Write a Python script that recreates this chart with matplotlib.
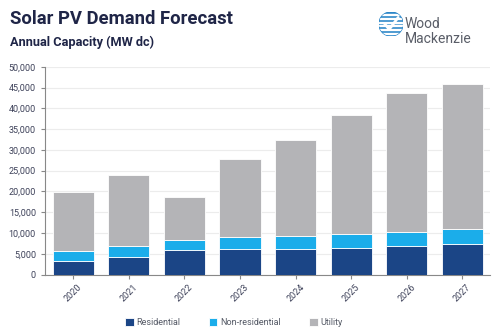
import numpy as np
import matplotlib
matplotlib.use("Agg")
import matplotlib.pyplot as plt
from matplotlib.patches import Circle, Rectangle
from matplotlib.ticker import FuncFormatter

years = ["2020", "2021", "2022", "2023", "2024", "2025", "2026", "2027"]
residential = [3300, 4300, 5800, 6200, 6200, 6500, 6900, 7400]
non_residential = [2400, 2600, 2600, 2800, 3100, 3200, 3300, 3600]
utility = [14200, 17100, 10200, 18800, 23100, 28800, 33400, 34900]
series_names = ["Residential", "Non-residential", "Utility"]

plt.rcParams['font.family'] = ['Roboto', 'DejaVu Sans']

c_res = "#1b4586"
c_non = "#1badea"
c_uti = "#b4b4b7"
navy = "#1f2547"
tick_c = "#3d4159"

fig = plt.figure(figsize=(5, 3.32), dpi=100)
ax = fig.add_axes([0.09, 0.173, 0.89, 0.626])

x = np.arange(len(years))
res = np.array(residential)
non = np.array(non_residential)
uti = np.array(utility)
w = 0.74
ax.bar(x, res, w, color=c_res, edgecolor="white", linewidth=0.6, zorder=3, label=series_names[0])
ax.bar(x, non, w, bottom=res, color=c_non, edgecolor="white", linewidth=0.6, zorder=3, label=series_names[1])
ax.bar(x, uti, w, bottom=res + non, color=c_uti, edgecolor="white", linewidth=0.6, zorder=3, label=series_names[2])

ax.set_xlim(-0.51, 7.5)
ax.set_ylim(0, 50000)
ax.set_yticks(np.arange(0, 50001, 5000))
ax.yaxis.set_major_formatter(FuncFormatter(lambda v, p: f"{int(v):,}"))
ax.set_xticks(x)
ax.set_xticklabels(years, rotation=45, ha="center", va="top")
ax.tick_params(axis="both", labelsize=6.5, colors="#888888", labelcolor=tick_c, length=3, width=0.8)
ax.tick_params(axis="x", pad=3)
ax.grid(axis="y", color="#ececec", linewidth=0.8, zorder=0)
for s in ["top", "right"]:
    ax.spines[s].set_visible(False)
for s in ["left", "bottom"]:
    ax.spines[s].set_color("#888888")
    ax.spines[s].set_linewidth(0.8)

fig.text(0.02, 0.928, "Solar PV Demand Forecast", fontsize=13.3, fontweight="bold", color=navy)
fig.text(0.02, 0.862, "Annual Capacity (MW dc)", fontsize=9.2, fontweight="bold", color=navy)

# legend
leg = fig.legend(loc="lower center", bbox_to_anchor=(0.468, -0.01), ncol=3, frameon=False,
                 fontsize=6.5, handlelength=0.9, handleheight=0.9, handletextpad=0.3,
                 columnspacing=3.2)
for t in leg.get_texts():
    t.set_color("#555a66")

# logo
lax = fig.add_axes([0.758, 1 - 36 / 332, 0.048, 0.0723])
lax.set_xlim(-1, 1)
lax.set_ylim(-1, 1)
lax.set_aspect("equal")
lax.axis("off")
circ = Circle((0, 0), 1, color="#2a86c8")
lax.add_patch(circ)
for yy in np.linspace(-0.8, 0.8, 6):
    r = Rectangle((-1, yy - 0.04), 2, 0.08, color="white")
    lax.add_patch(r)
    r.set_clip_path(circ)
lax.plot([-0.55, -0.15, 0.6], [0.05, -0.45, 0.55], color="white", lw=2.0, solid_capstyle="round")
fig.text(0.81, 0.916, "Wood", fontsize=10, color="#5a5e68")
fig.text(0.81, 0.87, "Mackenzie", fontsize=10, color="#5a5e68")

fig.savefig("out.png", dpi=100)
